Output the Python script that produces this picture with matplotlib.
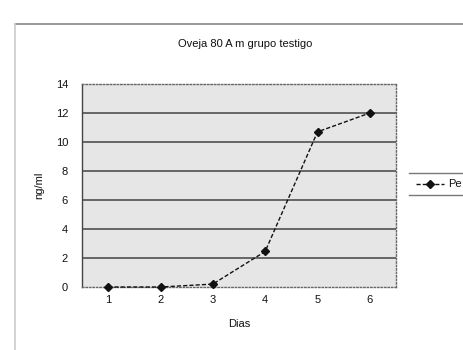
import matplotlib
matplotlib.use("Agg")
import matplotlib.pyplot as plt
from matplotlib.lines import Line2D

plt.rcParams['font.family'] = ['Liberation Sans', 'DejaVu Sans']

dias = [1, 2, 3, 4, 5, 6]
valores = [0.0, 0.0, 0.2, 2.45, 10.7, 12.0]
yticks = [0, 2, 4, 6, 8, 10, 12, 14]
titulo = "Oveja 80 A m grupo testigo"
serie = "Pe"

fig = plt.figure(figsize=(4.63, 3.5), dpi=100)
fig.patch.set_facecolor('white')

# outer frame lines
fig.add_artist(Line2D([15/463, 1], [1-24/350, 1-24/350], color='#888888', lw=1.2))
fig.add_artist(Line2D([15/463, 15/463], [0, 1-24/350], color='#cccccc', lw=1.2))

ax = fig.add_axes([82/463, 1-287/350, 314/463, 203/350])
ax.set_facecolor('#e6e6e6')
ax.set_xlim(0.5, 6.5)
ax.set_ylim(0, 14)
ax.set_yticks(yticks)
ax.set_xticks(dias)
for y in yticks[1:-1]:
    ax.axhline(y, color='#444444', lw=1.1, zorder=1)
ax.tick_params(axis='both', length=0, labelsize=8, colors='#111111', pad=6)
ax.tick_params(axis='y', pad=10)
for s in ['top', 'right', 'bottom']:
    ax.spines[s].set_linestyle((0, (1, 1.5)))
    ax.spines[s].set_color('#666666')
    ax.spines[s].set_linewidth(1.0)
ax.spines['left'].set_color('#444444')
ax.spines['left'].set_linewidth(1.0)

ax.plot(dias, valores, color='#111111', lw=1.0, ls=(0, (3, 1.5)),
        marker='D', markersize=4.5, zorder=3, clip_on=False)

fig.text(245/463, 1-44/350, titulo, ha='center', va='center', fontsize=8, color='#111111')
ax.set_xlabel("Dias", fontsize=8, color='#111111', labelpad=10)
ax.set_ylabel("ng/ml", fontsize=8, color='#111111', labelpad=8)

# legend (manual)
fig.add_artist(Line2D([409/463, 1], [1-173/350, 1-173/350], color='#777777', lw=1.0))
fig.add_artist(Line2D([409/463, 1], [1-195/350, 1-195/350], color='#777777', lw=1.0))
fig.add_artist(Line2D([416/463, 444/463], [1-184/350, 1-184/350], color='#111111', lw=1.0,
                      ls=(0, (3, 1.5))))
fig.add_artist(Line2D([430/463], [1-184/350], color='#111111', marker='D', markersize=4.5))
fig.text(448/463, 1-184/350, serie, ha='left', va='center', fontsize=8, color='#111111')

fig.savefig("out.png", dpi=100)
